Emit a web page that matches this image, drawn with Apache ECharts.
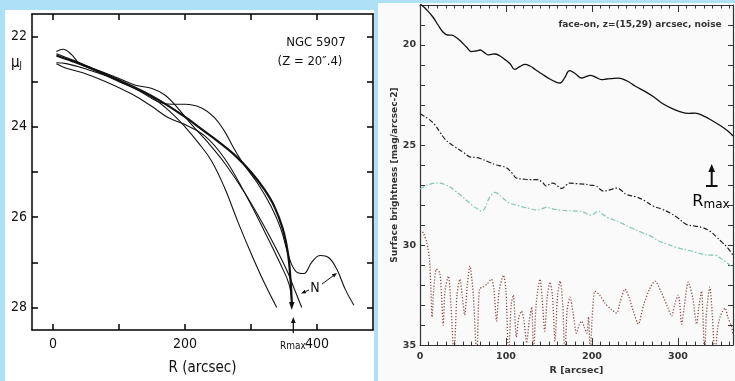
<!DOCTYPE html>
<html><head><meta charset="utf-8">
<script src="https://cdn.jsdelivr.net/npm/echarts@6/dist/echarts.min.js"></script>
<style>html,body{margin:0;padding:0;background:#aee0f8}#c{width:735px;height:381px}</style>
</head><body><div id="c"></div>
<script>
// ---------- Left panel: NGC 5907 profiles ----------
const c1R = [5, 20, 50, 100, 150, 180, 200, 220, 240, 260, 280, 300, 320, 339];
const c1M = [22.58, 22.6, 22.72, 22.98, 23.35, 23.7, 24.0, 24.35, 24.75, 25.35, 26.1, 26.8, 27.45, 28.0];
const c2R = [5, 15, 28, 40, 60, 100, 130, 160, 180, 200, 225, 245, 260, 275, 290, 310, 330, 345, 358, 368, 380, 392, 405, 418, 430, 443, 456];
const c2M = [22.33, 22.28, 22.4, 22.6, 22.73, 23.0, 23.2, 23.45, 23.5, 23.5, 23.58, 23.8, 24.1, 24.5, 24.85, 25.25, 25.75, 26.25, 26.9, 27.2, 27.25, 27.0, 26.85, 26.9, 27.15, 27.6, 27.95];
const c3R = [5, 30, 60, 100, 150, 200, 225, 250, 275, 300, 320, 335, 348, 356, 360, 362];
const c3M = [22.42, 22.55, 22.72, 22.97, 23.32, 23.78, 24.05, 24.32, 24.62, 25.0, 25.38, 25.75, 26.25, 26.8, 27.4, 27.95];
const c4R = [5, 30, 60, 100, 125, 150, 170, 190, 210, 235, 260, 290, 320, 340, 355, 366, 377];
const c4M = [22.38, 22.52, 22.7, 22.93, 23.08, 23.15, 23.3, 23.6, 23.95, 24.35, 24.8, 25.45, 26.2, 26.75, 27.2, 27.6, 28.0];
const c5R = [5, 20, 45, 80, 120, 150, 175, 200, 230, 260, 290, 320, 345, 358, 362];
const c5M = [22.6, 22.7, 22.8, 23.0, 23.28, 23.55, 23.8, 23.95, 24.2, 24.7, 25.45, 26.3, 27.05, 27.5, 27.95];
const leftXTicks = [0, 100, 200, 300, 400];
const leftXLabels = [0, 200, 400];
const leftYTicks = [22, 23, 24, 25, 26, 27, 28];
const leftYLabels = [22, 24, 26, 28];

// ---------- Right panel: face-on profiles ----------
const solidR = [0, 2, 8, 15, 21, 27, 32, 37, 43, 48, 54, 60, 65, 70, 75, 79, 83, 87, 93, 99, 105, 110, 116, 122, 128, 134, 142, 151, 157, 163, 168, 174, 181, 188, 193, 198, 204, 211, 217, 223, 230, 236, 243, 250, 262, 272, 281, 292, 304, 312, 320, 330, 339, 350, 358, 364];
const solidM = [17.95, 18.0, 18.25, 18.6, 19.0, 19.36, 19.5, 19.51, 19.65, 19.84, 20.1, 20.33, 20.3, 20.25, 20.38, 20.49, 20.47, 20.45, 20.55, 20.73, 20.95, 21.22, 21.08, 20.97, 21.05, 21.22, 21.45, 21.7, 21.83, 21.9, 21.65, 21.28, 21.45, 21.65, 21.58, 21.52, 21.6, 21.73, 21.7, 21.68, 21.66, 21.7, 21.85, 22.05, 22.33, 22.6, 22.9, 23.15, 23.36, 23.42, 23.4, 23.55, 23.76, 24.05, 24.3, 24.55];
const dashR = [0, 2, 10, 17, 23, 29, 35, 41, 50, 58, 64, 70, 80, 89, 95, 101, 107, 112, 120, 128, 136, 142, 147, 151, 155, 160, 165, 170, 174, 182, 190, 198, 205, 209, 213, 220, 229, 235, 240, 252, 262, 271, 281, 291, 300, 310, 320, 329, 337, 345, 351, 357, 364];
const dashM = [23.45, 23.48, 23.7, 23.97, 24.35, 24.7, 24.92, 25.1, 25.35, 25.59, 25.62, 25.67, 25.85, 26.0, 26.05, 26.15, 26.4, 26.65, 26.7, 26.73, 26.73, 26.85, 27.05, 26.95, 26.9, 27.05, 27.17, 27.0, 26.9, 26.93, 26.95, 27.0, 27.05, 27.2, 27.3, 27.25, 27.15, 27.3, 27.47, 27.6, 27.8, 28.05, 28.2, 28.4, 28.65, 28.97, 29.05, 29.13, 29.3, 29.6, 29.85, 30.1, 30.5];
const tealR = [0, 6, 12, 18, 23, 29, 35, 41, 47, 55, 62, 67, 72, 76, 79, 83, 87, 91, 95, 100, 105, 112, 120, 128, 136, 142, 147, 155, 163, 172, 182, 190, 198, 203, 207, 212, 219, 226, 234, 246, 258, 268, 277, 287, 297, 305, 312, 320, 328, 336, 343, 349, 355, 360, 364];
const tealM = [27.2, 27.05, 26.95, 26.9, 26.9, 26.98, 27.1, 27.3, 27.5, 27.8, 28.05, 28.2, 28.3, 28.1, 27.77, 27.5, 27.37, 27.45, 27.6, 27.78, 27.92, 28.0, 28.1, 28.18, 28.25, 28.18, 28.12, 28.2, 28.25, 28.28, 28.3, 28.35, 28.5, 28.42, 28.3, 28.45, 28.64, 28.75, 28.9, 29.15, 29.37, 29.55, 29.78, 29.95, 30.1, 30.2, 30.26, 30.35, 30.45, 30.5, 30.5, 30.65, 30.83, 31.0, 31.15];
const noiseR = [0, 4, 8, 11, 12.5, 14, 16, 19, 23, 25, 27, 29, 33, 36, 39.5, 43, 46.5, 49, 52, 55, 58, 62, 66, 69, 73, 78, 83, 86, 89, 92, 97, 100, 103, 106, 108.5, 110, 112, 115, 118, 121, 124, 127, 130, 132, 135, 139.5, 142, 145, 148, 151, 154, 157, 160, 163, 166, 168.5, 171, 174.4, 178, 182, 185, 188, 191, 194, 196, 198, 200, 203.5, 209, 215, 222, 228.7, 233, 238.4, 243, 248, 253.9, 260, 267, 273.3, 280, 287, 292.7, 296, 300.4, 302, 304.3, 307, 312, 317, 321.7, 324, 327.5, 329, 331, 333, 337, 340, 343, 346, 349, 352, 354.7, 358, 362.4, 364];
const noiseM = [29.25, 29.4, 29.9, 30.7, 32.0, 33.6, 32.2, 31.2, 31.4, 32.5, 34.0, 32.3, 31.55, 33.0, 35.6, 32.5, 31.7, 32.5, 33.5, 32.0, 31.05, 32.5, 35.6, 32.2, 32.1, 31.95, 31.7, 32.2, 33.8, 32.3, 31.5, 32.3, 35.6, 33.0, 32.5, 33.3, 34.6, 33.6, 33.3, 33.8, 34.9, 33.8, 33.1, 35.6, 33.0, 31.7, 32.6, 34.3, 32.6, 31.85, 32.5, 34.8, 32.5, 31.8, 33.0, 35.6, 33.3, 32.6, 33.4, 34.4, 34.0, 33.8, 34.1, 34.4, 33.6, 35.6, 33.8, 32.3, 32.5, 32.9, 33.2, 33.4, 32.8, 32.2, 32.6, 33.3, 33.95, 33.0, 32.2, 31.8, 32.3, 33.0, 33.54, 33.0, 32.5, 32.9, 33.95, 33.2, 31.85, 32.6, 33.95, 33.2, 32.3, 33.5, 35.6, 33.5, 32.1, 33.5, 35.6, 34.2, 33.6, 33.3, 33.15, 33.6, 34.1, 34.5];
const rightXLabels = [0, 100, 200, 300];
const rightYLabels = [20, 25, 30, 35];

const zip = (a, b) => a.map((v, i) => [v, b[i]]);

const LF = "'DejaVu Sans Condensed','Liberation Sans Narrow','Liberation Sans',sans-serif";
const RF = "'DejaVu Sans',sans-serif";

function arrow(x1, y1, x2, y2, w, h, color) {
  const dx = x2 - x1, dy = y2 - y1, L = Math.hypot(dx, dy), ux = dx / L, uy = dy / L;
  const bx = x2 - ux * h, by = y2 - uy * h, px = -uy * h * 0.4, py = ux * h * 0.4;
  return [
    { type: 'line', shape: { x1: x1, y1: y1, x2: bx, y2: by }, style: { stroke: color, lineWidth: w }, z: 50 },
    { type: 'polygon', shape: { points: [[x2, y2], [bx + px, by + py], [bx - px, by - py]] }, style: { fill: color }, z: 50 }
  ];
}

const chart = echarts.init(document.getElementById('c'), null, { renderer: 'canvas' });
const left = (name, r, m, w) => ({ name, type: 'line', xAxisIndex: 0, yAxisIndex: 0, data: zip(r, m), smooth: 0.4, showSymbol: false, lineStyle: { color: '#111', width: w }, z: 5 });
const LAX = { color: '#000', width: 1.5 };
const RAX = { color: '#333', width: 1.2 };

const option = {
  animation: false,
  backgroundColor: '#aee0f8',
  grid: [
    { left: 32, top: 14, width: 341, height: 319, show: false },
    { left: 420, top: 5, width: 313, height: 350, show: false }
  ],
  xAxis: [
    { gridIndex: 0, type: 'value', min: -32, max: 485, position: 'bottom',
      axisLine: { show: true, onZero: false, lineStyle: LAX },
      axisTick: { show: true, inside: true, length: 6, customValues: leftXTicks, lineStyle: LAX },
      axisLabel: { customValues: leftXLabels, fontFamily: LF, fontSize: 14, color: '#111', margin: 7 },
      splitLine: { show: false },
      name: 'R (arcsec)', nameLocation: 'middle', nameGap: 31, nameTextStyle: { fontFamily: LF, fontSize: 15, color: '#111' } },
    { gridIndex: 0, type: 'value', min: -32, max: 485, position: 'top',
      axisLine: { show: true, onZero: false, lineStyle: LAX },
      axisTick: { show: true, inside: true, length: 6, customValues: leftXTicks, lineStyle: LAX },
      axisLabel: { show: false }, splitLine: { show: false } },
    { gridIndex: 1, type: 'value', min: 0, max: 364, interval: 100, position: 'bottom',
      axisLine: { show: true, onZero: false, lineStyle: RAX },
      axisTick: { show: true, inside: true, length: 7, lineStyle: { color: '#333' } },
      minorTick: { show: true, splitNumber: 10, length: 3.5, lineStyle: { color: '#333' } },
      axisLabel: { customValues: rightXLabels, fontFamily: RF, fontSize: 9.5, color: '#333', fontWeight: 'bold', margin: 6 },
      splitLine: { show: false }, minorSplitLine: { show: false },
      name: 'R [arcsec]', nameLocation: 'middle', nameGap: 11, nameTextStyle: { fontFamily: RF, fontSize: 9.5, color: '#333', fontWeight: 'bold' } },
    { gridIndex: 1, type: 'value', min: 0, max: 364, interval: 100, position: 'top',
      axisLine: { show: true, onZero: false, lineStyle: RAX },
      axisTick: { show: true, inside: true, length: 7, lineStyle: { color: '#333' } },
      minorTick: { show: true, splitNumber: 10, length: 3.5, lineStyle: { color: '#333' } },
      axisLabel: { show: false }, splitLine: { show: false }, minorSplitLine: { show: false } }
  ],
  yAxis: [
    { gridIndex: 0, type: 'value', min: 21.5, max: 28.5, inverse: true, position: 'left',
      axisLine: { show: true, onZero: false, lineStyle: LAX },
      axisTick: { show: true, inside: true, length: 6, customValues: leftYTicks, lineStyle: LAX },
      axisLabel: { customValues: leftYLabels, fontFamily: LF, fontSize: 14, color: '#111', margin: 5 },
      splitLine: { show: false } },
    { gridIndex: 0, type: 'value', min: 21.5, max: 28.5, inverse: true, position: 'right',
      axisLine: { show: true, onZero: false, lineStyle: LAX },
      axisTick: { show: true, inside: true, length: 6, customValues: leftYTicks, lineStyle: LAX },
      axisLabel: { show: false }, splitLine: { show: false } },
    { gridIndex: 1, type: 'value', min: 18, max: 35, interval: 1, inverse: true, position: 'left',
      axisLine: { show: true, onZero: false, lineStyle: RAX },
      axisTick: { show: true, inside: true, length: 5, lineStyle: { color: '#333' } },
      axisLabel: { customValues: rightYLabels, fontFamily: RF, fontSize: 9.5, color: '#333', fontWeight: 'bold', margin: 4 },
      splitLine: { show: false },
      name: 'Surface brightness [mag/arcsec-2]', nameLocation: 'middle', nameGap: 15, nameRotate: 90,
      nameTextStyle: { fontFamily: RF, fontSize: 9, color: '#333', fontWeight: 'bold' } },
    { gridIndex: 1, type: 'value', min: 18, max: 35, interval: 1, inverse: true, position: 'right',
      axisLine: { show: true, onZero: false, lineStyle: RAX },
      axisTick: { show: true, inside: true, length: 5, lineStyle: { color: '#333' } },
      axisLabel: { show: false }, splitLine: { show: false } }
  ],
  series: [
    left('c1', c1R, c1M, 1.1),
    left('c2', c2R, c2M, 1.1),
    left('c3', c3R, c3M, 2.2),
    left('c4', c4R, c4M, 1.1),
    left('c5', c5R, c5M, 1.1),
    { name: 'noise', type: 'line', xAxisIndex: 2, yAxisIndex: 2, data: zip(noiseR, noiseM), smooth: 0.25, showSymbol: false,
      lineStyle: { color: '#8a4b42', width: 1.3, type: [1.2, 1.8] }, z: 3 },
    { name: 'teal', type: 'line', xAxisIndex: 2, yAxisIndex: 2, data: zip(tealR, tealM), smooth: 0.4, showSymbol: false,
      lineStyle: { color: '#7ec6b6', width: 1.2, type: [5, 2, 1.5, 2] }, z: 4 },
    { name: 'dash', type: 'line', xAxisIndex: 2, yAxisIndex: 2, data: zip(dashR, dashM), smooth: 0.4, showSymbol: false,
      lineStyle: { color: '#222', width: 1.2, type: [5, 2, 1.5, 2] }, z: 4 },
    { name: 'solid', type: 'line', xAxisIndex: 2, yAxisIndex: 2, data: zip(solidR, solidM), smooth: 0.4, showSymbol: false,
      lineStyle: { color: '#111', width: 1.3 }, z: 5 }
  ],
  graphic: [
    { type: 'rect', shape: { x: 5, y: 10, width: 369, height: 371 }, style: { fill: '#ffffff' }, z: -10, silent: true },
    { type: 'rect', shape: { x: 378, y: 3, width: 357, height: 378 }, style: { fill: '#fafafa' }, z: -10, silent: true },
    { type: 'text', x: 316, y: 43, style: { text: 'NGC 5907', font: '13px ' + LF, fill: '#111', align: 'center', verticalAlign: 'middle' }, z: 50 },
    { type: 'text', x: 310, y: 62, style: { text: '(Z = 20\u2033.4)', font: '13px ' + LF, fill: '#111', align: 'center', verticalAlign: 'middle' }, z: 50 },
    { type: 'text', x: 11, y: 63, style: { text: '{a|\u03bc}{b|J}', rich: { a: { fontSize: 15, fontFamily: LF, color: '#111' }, b: { fontSize: 9, fontFamily: LF, color: '#111', padding: [6, 0, 0, 0] } }, verticalAlign: 'middle' }, z: 50 },
    { type: 'text', x: 293, y: 346, style: { text: 'Rmax', font: '10px ' + LF, fill: '#111', align: 'center', verticalAlign: 'middle' }, z: 50 },
    { type: 'text', x: 315, y: 288, style: { text: 'N', font: '14px ' + LF, fill: '#111', align: 'center', verticalAlign: 'middle' }, z: 50 },
    ...arrow(293.3, 333, 293.3, 317, 1.3, 6, '#111'),
    ...arrow(309, 290, 301, 293.5, 1, 5, '#111'),
    ...arrow(322, 284, 337, 273, 1, 5, '#111'),
    { type: 'polygon', shape: { points: [[289, 302], [294.5, 302], [291.7, 310]] }, style: { fill: '#111' }, z: 50 },
    { type: 'text', x: 640, y: 25, style: { text: 'face-on, z=(15,29) arcsec, noise', font: 'bold 9px ' + RF, fill: '#333', align: 'center', verticalAlign: 'middle' }, z: 50 },
    { type: 'line', shape: { x1: 711.7, y1: 186, x2: 711.7, y2: 171 }, style: { stroke: '#111', lineWidth: 2 }, z: 50 },
    { type: 'polygon', shape: { points: [[711.7, 164], [708.3, 172], [715.1, 172]] }, style: { fill: '#111' }, z: 50 },
    { type: 'line', shape: { x1: 706, y1: 186, x2: 717.5, y2: 186 }, style: { stroke: '#111', lineWidth: 2 }, z: 50 },
    { type: 'text', x: 711, y: 202, style: { text: '{a|R}{b|max}', rich: { a: { fontSize: 16, fontFamily: RF, color: '#111' }, b: { fontSize: 12, fontFamily: RF, color: '#111', padding: [5, 0, 0, 0] } }, align: 'center', verticalAlign: 'middle' }, z: 50 }
  ]
};
chart.setOption(option);
</script>
</body></html>
